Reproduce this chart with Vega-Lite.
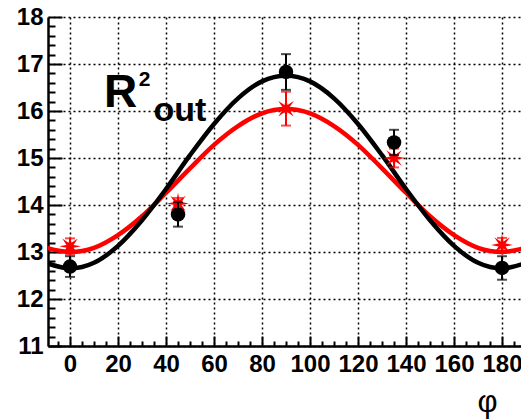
{
  "$schema": "https://vega.github.io/schema/vega-lite/v6.json",
  "width": 473,
  "height": 329,
  "autosize": {"type": "none"},
  "padding": {"left": 48, "top": 17, "right": 0, "bottom": 73},
  "background": "white",
  "config": {
    "view": {"stroke": null},
    "axis": {
      "labelFont": "Liberation Sans",
      "labelFontWeight": "bold",
      "labelFontSize": 24,
      "labelColor": "black",
      "labelOverlap": false,
      "labelFlush": false,
      "domainColor": "black",
      "domainWidth": 2.5,
      "tickColor": "black",
      "tickWidth": 2,
      "gridColor": "black",
      "gridDash": [2, 3],
      "gridWidth": 1.5
    }
  },
  "datasets": {
    "curves": [
      {"phi": -10, "v": 12.77, "s": "black"}, {"phi": 0, "v": 12.65, "s": "black"}, {"phi": 10, "v": 12.77, "s": "black"},
      {"phi": 20, "v": 13.13, "s": "black"}, {"phi": 30, "v": 13.675, "s": "black"}, {"phi": 40, "v": 14.34, "s": "black"},
      {"phi": 50, "v": 15.06, "s": "black"}, {"phi": 60, "v": 15.725, "s": "black"}, {"phi": 70, "v": 16.27, "s": "black"},
      {"phi": 80, "v": 16.63, "s": "black"}, {"phi": 90, "v": 16.75, "s": "black"}, {"phi": 100, "v": 16.63, "s": "black"},
      {"phi": 110, "v": 16.27, "s": "black"}, {"phi": 120, "v": 15.725, "s": "black"}, {"phi": 130, "v": 15.06, "s": "black"},
      {"phi": 140, "v": 14.34, "s": "black"}, {"phi": 150, "v": 13.675, "s": "black"}, {"phi": 160, "v": 13.13, "s": "black"},
      {"phi": 170, "v": 12.77, "s": "black"}, {"phi": 180, "v": 12.65, "s": "black"}, {"phi": 190, "v": 12.77, "s": "black"},
      {"phi": -10, "v": 13.09, "s": "red"}, {"phi": 0, "v": 13.0, "s": "red"}, {"phi": 10, "v": 13.09, "s": "red"},
      {"phi": 20, "v": 13.36, "s": "red"}, {"phi": 30, "v": 13.76, "s": "red"}, {"phi": 40, "v": 14.26, "s": "red"},
      {"phi": 50, "v": 14.78, "s": "red"}, {"phi": 60, "v": 15.28, "s": "red"}, {"phi": 70, "v": 15.68, "s": "red"},
      {"phi": 80, "v": 15.95, "s": "red"}, {"phi": 90, "v": 16.04, "s": "red"}, {"phi": 100, "v": 15.95, "s": "red"},
      {"phi": 110, "v": 15.68, "s": "red"}, {"phi": 120, "v": 15.28, "s": "red"}, {"phi": 130, "v": 14.78, "s": "red"},
      {"phi": 140, "v": 14.26, "s": "red"}, {"phi": 150, "v": 13.76, "s": "red"}, {"phi": 160, "v": 13.36, "s": "red"},
      {"phi": 170, "v": 13.09, "s": "red"}, {"phi": 180, "v": 13.0, "s": "red"}, {"phi": 190, "v": 13.09, "s": "red"}
    ],
    "points": [
      {"phi": 0, "v": 12.69, "e": 0.22, "s": "black"},
      {"phi": 45, "v": 13.8, "e": 0.26, "s": "black"},
      {"phi": 90, "v": 16.83, "e": 0.38, "s": "black"},
      {"phi": 135, "v": 15.33, "e": 0.27, "s": "black"},
      {"phi": 180, "v": 12.66, "e": 0.25, "s": "black"},
      {"phi": 0, "v": 13.12, "e": 0.17, "s": "red"},
      {"phi": 45, "v": 14.03, "e": 0.12, "s": "red"},
      {"phi": 90, "v": 16.05, "e": 0.36, "s": "red"},
      {"phi": 135, "v": 15.0, "e": 0.2, "s": "red"},
      {"phi": 180, "v": 13.15, "e": 0.15, "s": "red"}
    ],
    "labels": [
      {"label": "R"}
    ]
  },
  "encoding": {
    "x": {
      "type": "quantitative",
      "scale": {"domain": [-9.17, 187.9], "nice": false, "zero": false},
      "axis": {
        "title": "φ",
        "titleFont": "Liberation Sans",
        "titleFontWeight": "normal",
        "titleFontSize": 31,
        "titleColor": "black",
        "titleX": 439,
        "titleY": 65,
        "titleAlign": "center",
        "titleBaseline": "alphabetic",
        "grid": true,
        "values": [-5, 0, 5, 10, 15, 20, 25, 30, 35, 40, 45, 50, 55, 60, 65, 70, 75, 80, 85, 90, 95, 100, 105, 110, 115, 120, 125, 130, 135, 140, 145, 150, 155, 160, 165, 170, 175, 180, 185],
        "format": "d",
        "labelExpr": "datum.value % 20 === 0 ? datum.label : ''",
        "labelPadding": 16,
        "tickSize": {"condition": {"test": "datum.value % 20 === 0", "value": -10}, "value": -5},
        "gridOpacity": {"condition": {"test": "datum.value % 20 === 0", "value": 1}, "value": 0}
      }
    },
    "y": {
      "type": "quantitative",
      "scale": {"domain": [11, 18], "nice": false, "zero": false},
      "axis": {
        "title": null,
        "grid": true,
        "values": [11, 11.2, 11.4, 11.6, 11.8, 12, 12.2, 12.4, 12.6, 12.8, 13, 13.2, 13.4, 13.6, 13.8, 14, 14.2, 14.4, 14.6, 14.8, 15, 15.2, 15.4, 15.6, 15.8, 16, 16.2, 16.4, 16.6, 16.8, 17, 17.2, 17.4, 17.6, 17.8, 18],
        "format": ".0f",
        "labelExpr": "abs(datum.value - round(datum.value)) < 0.01 ? datum.label : ''",
        "labelPadding": 19,
        "tickSize": {"condition": {"test": "abs(datum.value - round(datum.value)) < 0.01", "value": -14}, "value": -7},
        "gridOpacity": {"condition": {"test": "abs(datum.value - round(datum.value)) < 0.01", "value": 1}, "value": 0}
      }
    }
  },
  "layer": [
    {
      "mark": {"type": "rule", "color": "black", "strokeWidth": 2},
      "encoding": {"y": {"datum": 18, "type": "quantitative"}}
    },
    {
      "data": {"name": "curves"},
      "transform": [{"filter": "datum.s === 'red'"}],
      "mark": {"type": "line", "color": "#ff0000", "strokeWidth": 4.5, "interpolate": "monotone", "clip": true},
      "encoding": {"x": {"field": "phi", "type": "quantitative"}, "y": {"field": "v", "type": "quantitative"}}
    },
    {
      "data": {"name": "curves"},
      "transform": [{"filter": "datum.s === 'black'"}],
      "mark": {"type": "line", "color": "black", "strokeWidth": 4.5, "interpolate": "monotone", "clip": true},
      "encoding": {"x": {"field": "phi", "type": "quantitative"}, "y": {"field": "v", "type": "quantitative"}}
    },
    {
      "data": {"name": "points"},
      "transform": [{"filter": "datum.s === 'red'"}],
      "mark": {"type": "errorbar", "color": "#ff0000", "thickness": 2, "ticks": {"size": 10, "thickness": 2, "color": "#ff0000"}},
      "encoding": {"x": {"field": "phi", "type": "quantitative"}, "y": {"field": "v", "type": "quantitative"}, "yError": {"field": "e"}}
    },
    {
      "data": {"name": "points"},
      "transform": [{"filter": "datum.s === 'red'"}],
      "mark": {"type": "point", "filled": true, "opacity": 1, "color": "#ff0000", "size": 480,
        "shape": "M1,0L0.323,0.134L0.707,0.707L0.134,0.323L0,1L-0.134,0.323L-0.707,0.707L-0.323,0.134L-1,0L-0.323,-0.134L-0.707,-0.707L-0.134,-0.323L0,-1L0.134,-0.323L0.707,-0.707L0.323,-0.134Z"},
      "encoding": {"x": {"field": "phi", "type": "quantitative"}, "y": {"field": "v", "type": "quantitative"}}
    },
    {
      "data": {"name": "points"},
      "transform": [{"filter": "datum.s === 'black'"}],
      "mark": {"type": "errorbar", "color": "black", "thickness": 2, "ticks": {"size": 10, "thickness": 2, "color": "black"}},
      "encoding": {"x": {"field": "phi", "type": "quantitative"}, "y": {"field": "v", "type": "quantitative"}, "yError": {"field": "e"}}
    },
    {
      "data": {"name": "points"},
      "transform": [{"filter": "datum.s === 'black'"}],
      "mark": {"type": "point", "filled": true, "opacity": 1, "color": "black", "size": 210, "shape": "circle"},
      "encoding": {"x": {"field": "phi", "type": "quantitative"}, "y": {"field": "v", "type": "quantitative"}}
    },
    {
      "data": {"name": "labels"},
      "mark": {"type": "text", "text": "R", "font": "Liberation Sans", "fontWeight": "bold", "fontSize": 46, "align": "left", "baseline": "alphabetic", "color": "black"},
      "encoding": {"x": {"datum": 14.2, "type": "quantitative"}, "y": {"datum": 16.085, "type": "quantitative"}}
    },
    {
      "data": {"name": "labels"},
      "mark": {"type": "text", "text": "2", "font": "Liberation Sans", "fontWeight": "bold", "fontSize": 21, "align": "left", "baseline": "alphabetic", "color": "black"},
      "encoding": {"x": {"datum": 28.6, "type": "quantitative"}, "y": {"datum": 16.54, "type": "quantitative"}}
    },
    {
      "data": {"name": "labels"},
      "mark": {"type": "text", "text": "out", "font": "Liberation Sans", "fontWeight": "bold", "fontSize": 34, "align": "left", "baseline": "alphabetic", "color": "black"},
      "encoding": {"x": {"datum": 34.8, "type": "quantitative"}, "y": {"datum": 15.79, "type": "quantitative"}}
    }
  ]
}
